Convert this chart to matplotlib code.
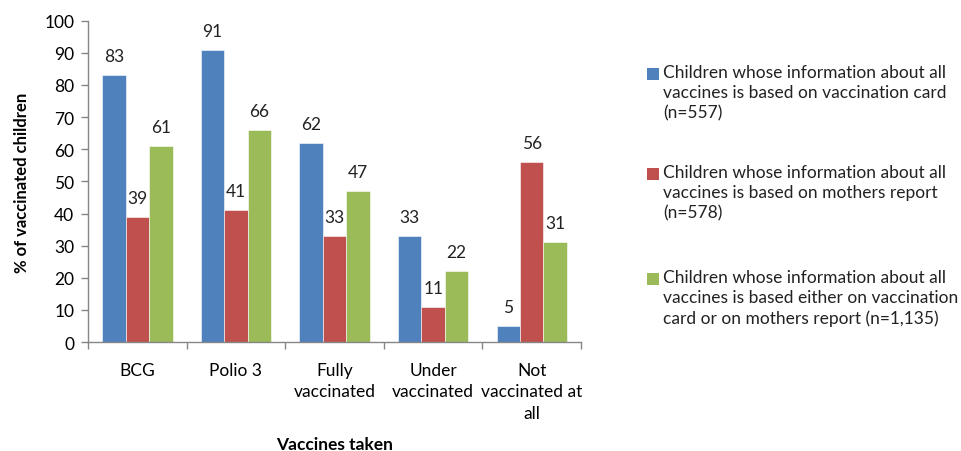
import numpy as np
import matplotlib.pyplot as plt
from matplotlib.patches import Rectangle

plt.rcParams['font.family'] = ['Lato', 'DejaVu Sans']

categories = ['BCG', 'Polio 3', 'Fully\nvaccinated', 'Under\nvaccinated', 'Not\nvaccinated at\nall']
card = [83, 91, 62, 33, 5]
mothers = [39, 41, 33, 11, 56]
either = [61, 66, 47, 22, 31]

series_labels = [
    'Children whose information about all\nvaccines is based on vaccination card\n(n=557)',
    'Children whose information about all\nvaccines is based on mothers report\n(n=578)',
    'Children whose information about all\nvaccines is based either on vaccination\ncard or on mothers report (n=1,135)',
]
colors = ['#4F81BD', '#C0504D', '#9BBB59']
axis_grey = '#868686'

W, H = 962, 452
fig = plt.figure(figsize=(W / 100, H / 100), dpi=100)
ax = fig.add_axes([0.0915, 0.241, 0.5125, 0.711])

x = np.arange(len(categories))
width = 0.238
for i, (vals, col) in enumerate(zip([card, mothers, either], colors)):
    pos = x + (i - 1) * width
    ax.bar(pos, vals, width, color=col, edgecolor='white', linewidth=0.4)
    for px, v in zip(pos, vals):
        ax.annotate(str(v), (px, v), xytext=(0, 8), textcoords='offset points',
                    ha='center', va='bottom', fontsize=12.5, color='#222222')

ax.set_xlim(-0.5, len(categories) - 0.5)
ax.set_ylim(0, 100)
ax.set_yticks(range(0, 101, 10))

# categories sit between tick marks on the x axis
ax.set_xticks(x)
ax.set_xticklabels(categories, fontsize=12.5, linespacing=1.45)
ax.set_xticks(np.arange(-0.5, len(categories)), minor=True)
ax.tick_params(axis='x', which='major', length=0, pad=14)
ax.tick_params(axis='x', which='minor', length=5, color=axis_grey, width=1)
ax.tick_params(axis='y', length=5, color=axis_grey, width=1, labelsize=12.5, pad=5)

for side in ['top', 'right']:
    ax.spines[side].set_visible(False)
for side in ['left', 'bottom']:
    ax.spines[side].set_color(axis_grey)
    ax.spines[side].set_linewidth(1)

ax.set_ylabel('% of vaccinated children', fontsize=12, fontweight='bold', labelpad=10)
fig.text(ax.get_position().x0 + ax.get_position().width / 2, 1 - 445 / H,
         'Vaccines taken', fontsize=12.5, fontweight='bold', ha='center', va='center')

# legend drawn by hand so the swatch lines up with the first text line
block_tops = [65, 165, 270]
for top, label, col in zip(block_tops, series_labels, colors):
    fig.text(663 / W, 1 - top / H, label, fontsize=12.5, va='top', ha='left',
             linespacing=1.3, color='#222222')
    fig.patches.append(Rectangle((647 / W, 1 - (top + 16) / H), 12 / W, 12 / H,
                                 transform=fig.transFigure, facecolor=col,
                                 edgecolor='none'))

fig.savefig('out.png', dpi=100)
